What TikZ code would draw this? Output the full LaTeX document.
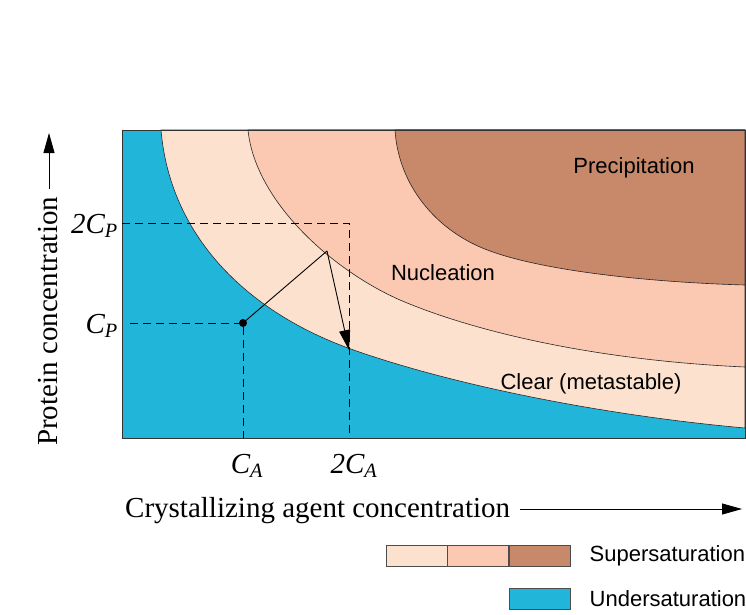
\documentclass[tikz,border=0pt]{standalone}
\usepackage{fontspec}
\setmainfont{Liberation Serif}
\setsansfont{Liberation Sans}
\usetikzlibrary{positioning,arrows.meta}

\definecolor{under}{RGB}{34,181,218}
\definecolor{clear}{RGB}{253,225,207}
\definecolor{nucl}{RGB}{251,201,178}
\definecolor{precip}{RGB}{200,136,106}

\newcommand{\conc}[2]{{\itshape #1\textsubscript{#2}}}

\tikzset{
	region/.style={draw=black!85, line width=0.6pt},
	guide/.style={dash pattern=on 8pt off 5pt, line width=0.9pt},
	zone/.style={font=\sffamily\fontsize{22}{26}\selectfont, inner sep=2pt},
	axis/.style={font=\fontsize{29}{34}\selectfont, inner sep=2pt},
	swatch/.style={draw=black!70, line width=0.6pt, minimum width=61pt, minimum height=21pt, inner sep=0pt},
}

\begin{document}
\begin{tikzpicture}[x=1pt,y=-1pt,>={Triangle[length=20pt,width=11pt]}]
			\useasboundingbox (0,0) rectangle (746,614);
			
			\fill[under] (122,130) rectangle (745,438);
			\path[region, fill=clear] (161,130) .. controls (170,235) and (245,310) .. (348,348)
			.. controls (448,384) and (600,415) .. (745,428) -- (745,130) -- cycle;
			\path[region, fill=nucl] (248,130) .. controls (255,200) and (330,269) .. (400,300)
			.. controls (470,330) and (590,360) .. (745,367) -- (745,130) -- cycle;
			\path[region, fill=precip] (395,130) .. controls (398,180) and (430,225) .. (480,247)
			.. controls (530,269) and (640,282) .. (745,285) -- (745,130) -- cycle;
			\draw[black!80, line width=0.7pt] (122,130) rectangle (745,438);
			
			\node[zone] (prec) at (634,168) {Precipitation};
			\node[zone] (nuc) at (443,273) {Nucleation};
			\node[zone] (clr) at (591,384) {Clear (metastable)};
			
			\coordinate (cp2) at (122,223);
			\coordinate (ca2) at (349,438);
			\coordinate (cp1) at (130,323);
			\coordinate (ca1) at (243,438);
			\coordinate (turn) at (327,251);
			\coordinate (stop) at (349,350);
			\node[circle, fill, inner sep=0pt, minimum size=8pt] (start) at (243,323) {};
			
			\draw[guide] (cp2) -| (ca2);
			\draw[guide] (cp1) -| (ca1);
			\draw[line width=0.9pt] (start.center) -- (turn);
			\draw[->, line width=0.9pt] (turn) -- (stop);
			
			\node[axis, anchor=base east] (l2cp) at (120,233) {\conc{2C}{P}};
			\node[axis, anchor=base east] (lcp) at (120,333) {\conc{C}{P}};
			\node[axis, anchor=base] (lca) at (247,473) {\conc{C}{A}};
			\node[axis, anchor=base] (l2ca) at (354,473) {\conc{2C}{A}};
			
			\node[axis, anchor=base west] (xlab) at (123,517) {Crystallizing agent concentration};
			\coordinate (xend) at (742,509);
			\draw[->, line width=0.8pt] (xlab.east |- xend) ++(8,0) -- (xend);
			\node[axis, rotate=90, anchor=base west] (ylab) at (57,448) {Protein concentration};
			\coordinate (yend) at (49,133);
			\draw[->, line width=0.8pt] (ylab.east -| yend) ++(0,-6) -- (yend);
			
			\node[swatch, fill=clear] (sw1) at (416.5,555.5) {};
			\node[swatch, fill=nucl, right=0pt of sw1] (sw2) {};
			\node[swatch, fill=precip, right=0pt of sw2] (sw3) {};
			\node[swatch, fill=under, below=22pt of sw3] (sw4) {};
			\node[zone, right=17pt of sw3] (sup) {Supersaturation};
			\node[zone, right=17pt of sw4] (und) {Undersaturation};
			
		\end{tikzpicture}
\end{document}
